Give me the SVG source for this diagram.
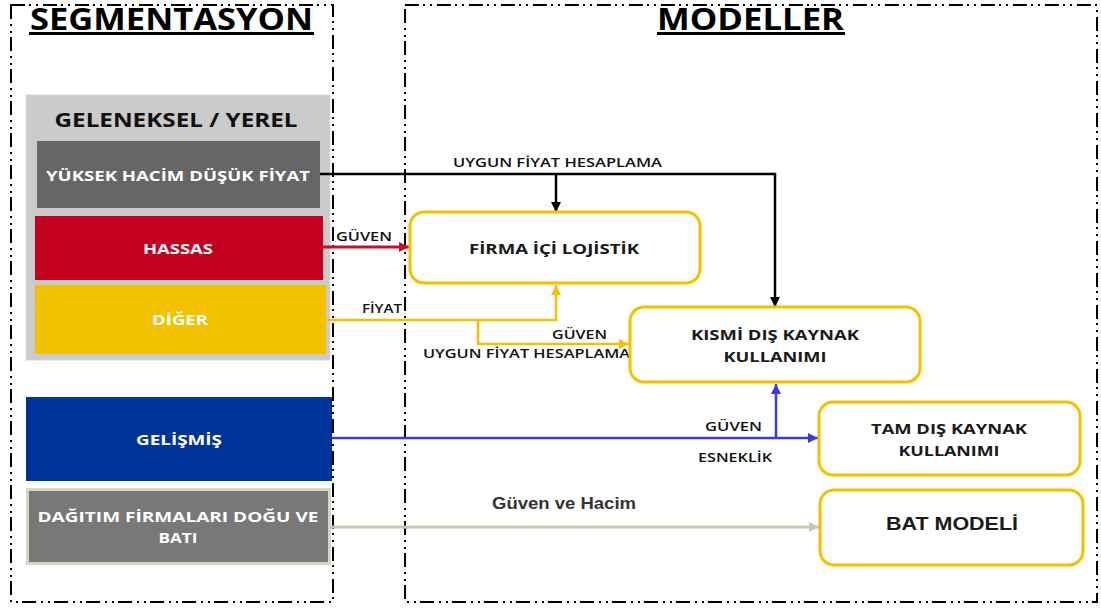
<svg xmlns="http://www.w3.org/2000/svg" width="1101" height="608" viewBox="0 0 1101 608">
  <style>
    .frame { fill: none; stroke: #000; stroke-width: 2; stroke-dasharray: 14 4 2 5 2 5; }
    .title { font-family: "Open Sans", "Liberation Sans", sans-serif; font-weight: 700; font-size: 30px; fill: #000; text-anchor: middle; }
    .seg { font-family: "Open Sans", "Liberation Sans", sans-serif; font-weight: 700; fill: #fff; text-anchor: middle; font-size: 15px; }
    .model { fill: #fff; stroke: #f5c000; stroke-width: 3; }
    .mtext { font-family: "Open Sans", "Liberation Sans", sans-serif; font-weight: 700; fill: #1a1a1a; text-anchor: middle; font-size: 15px; }
    .lbl { font-family: "Open Sans", "Liberation Sans", sans-serif; font-weight: 600; fill: #111; text-anchor: middle; font-size: 13px; }
    .conn { fill: none; }
  </style>
  <defs>
    <marker id="ahBlack" markerUnits="userSpaceOnUse" markerWidth="12" markerHeight="10" refX="10" refY="5" orient="auto">
      <path d="M0,0 L10,5 L0,10 z" fill="#000"/>
    </marker>
    <marker id="ahRed" markerUnits="userSpaceOnUse" markerWidth="12" markerHeight="10" refX="10" refY="5" orient="auto">
      <path d="M0,0 L10,5 L0,10 z" fill="#c8102e"/>
    </marker>
    <marker id="ahYellow" markerUnits="userSpaceOnUse" markerWidth="12" markerHeight="10" refX="10" refY="5" orient="auto">
      <path d="M0,0 L10,5 L0,10 z" fill="#f5c000"/>
    </marker>
    <marker id="ahBlue" markerUnits="userSpaceOnUse" markerWidth="12" markerHeight="10" refX="10" refY="5" orient="auto">
      <path d="M0,0 L10,5 L0,10 z" fill="#3a3adf"/>
    </marker>
    <marker id="ahBeige" markerUnits="userSpaceOnUse" markerWidth="12" markerHeight="10" refX="10" refY="5" orient="auto">
      <path d="M0,0 L10,5 L0,10 z" fill="#c8c8b4"/>
    </marker>
  </defs>

  <rect width="1101" height="608" fill="#fff"/>

  <!-- section frames -->
  <g id="frames">
    <rect class="frame" x="11" y="5" width="322" height="597"/>
    <rect class="frame" x="405" y="5" width="692" height="597"/>
  </g>

  <!-- section titles -->
  <g id="titles">
    <text class="title" x="171.5" y="30" textLength="283" lengthAdjust="spacingAndGlyphs">SEGMENTASYON</text>
    <rect x="29" y="32" width="285" height="3" fill="#000"/>
    <text class="title" x="750.5" y="30" textLength="187" lengthAdjust="spacingAndGlyphs">MODELLER</text>
    <rect x="657" y="32" width="188" height="3" fill="#000"/>
  </g>

  <!-- segments -->
  <g id="seg-traditional">
    <rect x="26" y="95" width="304" height="265" fill="#cbcbcb" stroke="#d8d8d0" stroke-width="1"/>
    <text x="176" y="127" font-family="Open Sans, Liberation Sans, sans-serif" font-weight="700" font-size="19" fill="#111" text-anchor="middle" textLength="243" lengthAdjust="spacingAndGlyphs">GELENEKSEL / YEREL</text>
  </g>
  <g id="seg-high-volume">
    <rect x="37" y="141" width="283" height="67" fill="#666"/>
    <text class="seg" x="178" y="181" textLength="264" lengthAdjust="spacingAndGlyphs">YÜKSEK HACİM DÜŞÜK FİYAT</text>
  </g>
  <g id="seg-sensitive">
    <rect x="35" y="216" width="288" height="64" fill="#c4001f"/>
    <text class="seg" x="178" y="254" textLength="70" lengthAdjust="spacingAndGlyphs">HASSAS</text>
  </g>
  <g id="seg-other">
    <rect x="35" y="285" width="291" height="69" fill="#f2c200"/>
    <text class="seg" x="180" y="325" textLength="56" lengthAdjust="spacingAndGlyphs">DİĞER</text>
  </g>
  <g id="seg-advanced">
    <rect x="26" y="397" width="306" height="84" fill="#003399"/>
    <text class="seg" x="179" y="445" textLength="86" lengthAdjust="spacingAndGlyphs">GELİŞMİŞ</text>
  </g>
  <g id="seg-distributors">
    <rect x="27.5" y="489.5" width="302" height="74" fill="#787878" stroke="#d6d6c4" stroke-width="3"/>
    <text class="seg" x="178" y="522" textLength="281" lengthAdjust="spacingAndGlyphs">DAĞITIM FİRMALARI DOĞU VE</text>
    <text class="seg" x="178" y="543" textLength="39" lengthAdjust="spacingAndGlyphs">BATI</text>
  </g>

  <!-- connectors -->
  <g id="connectors">
    <polyline class="conn" points="320,174 775,174 775,307" stroke="#000" stroke-width="2.5" marker-end="url(#ahBlack)"/>
    <line x1="556" y1="174" x2="556" y2="212" stroke="#000" stroke-width="2.5" marker-end="url(#ahBlack)"/>
    <line x1="323" y1="247" x2="409" y2="247" stroke="#c8102e" stroke-width="3" marker-end="url(#ahRed)"/>
    <polyline class="conn" points="326,320 556,320 556,285" stroke="#f5c000" stroke-width="2.5" marker-end="url(#ahYellow)"/>
    <polyline class="conn" points="478,320 478,344 629,344" stroke="#f5c000" stroke-width="2.5" marker-end="url(#ahYellow)"/>
    <line x1="332" y1="438" x2="818" y2="438" stroke="#3a3adf" stroke-width="2.5" marker-end="url(#ahBlue)"/>
    <line x1="776" y1="438" x2="776" y2="384" stroke="#3a3adf" stroke-width="2.5" marker-end="url(#ahBlue)"/>
    <line x1="330" y1="527" x2="819" y2="527" stroke="#c8c8b4" stroke-width="3" marker-end="url(#ahBeige)"/>

    <text class="lbl" x="557.5" y="167" textLength="209" lengthAdjust="spacingAndGlyphs">UYGUN FİYAT HESAPLAMA</text>
    <text class="lbl" x="364" y="241" textLength="56" lengthAdjust="spacingAndGlyphs">GÜVEN</text>
    <text class="lbl" x="382" y="313" textLength="40" lengthAdjust="spacingAndGlyphs">FİYAT</text>
    <text class="lbl" x="579.5" y="339" textLength="55" lengthAdjust="spacingAndGlyphs">GÜVEN</text>
    <text class="lbl" x="526.5" y="358" textLength="207" lengthAdjust="spacingAndGlyphs">UYGUN FİYAT HESAPLAMA</text>
    <text class="lbl" x="733.5" y="431" textLength="57" lengthAdjust="spacingAndGlyphs">GÜVEN</text>
    <text class="lbl" x="735" y="462" textLength="74" lengthAdjust="spacingAndGlyphs">ESNEKLİK</text>
    <text x="564" y="509" font-family="Liberation Sans, Arial, sans-serif" font-weight="700" font-size="16" fill="#333" text-anchor="middle" textLength="144" lengthAdjust="spacingAndGlyphs">Güven ve Hacim</text>
  </g>

  <!-- models -->
  <g id="model-inhouse">
    <rect class="model" x="410" y="212" width="290" height="71" rx="14"/>
    <text class="mtext" x="554" y="254" textLength="170" lengthAdjust="spacingAndGlyphs">FİRMA İÇİ LOJİSTİK</text>
  </g>
  <g id="model-partial">
    <rect class="model" x="630" y="307" width="290" height="75" rx="14"/>
    <text class="mtext" x="775" y="340" textLength="168" lengthAdjust="spacingAndGlyphs">KISMİ DIŞ KAYNAK</text>
    <text class="mtext" x="775" y="362" textLength="103" lengthAdjust="spacingAndGlyphs">KULLANIMI</text>
  </g>
  <g id="model-full">
    <rect class="model" x="819" y="402" width="261" height="73" rx="14"/>
    <text class="mtext" x="949" y="434" textLength="156" lengthAdjust="spacingAndGlyphs">TAM DIŞ KAYNAK</text>
    <text class="mtext" x="949" y="456" textLength="101" lengthAdjust="spacingAndGlyphs">KULLANIMI</text>
  </g>
  <g id="model-bat">
    <rect class="model" x="820" y="490" width="263" height="75" rx="14"/>
    <text x="952" y="530" font-family="Liberation Sans, Arial, sans-serif" font-weight="700" font-size="19" fill="#1a1a1a" text-anchor="middle" textLength="132" lengthAdjust="spacingAndGlyphs">BAT MODELİ</text>
  </g>
</svg>
